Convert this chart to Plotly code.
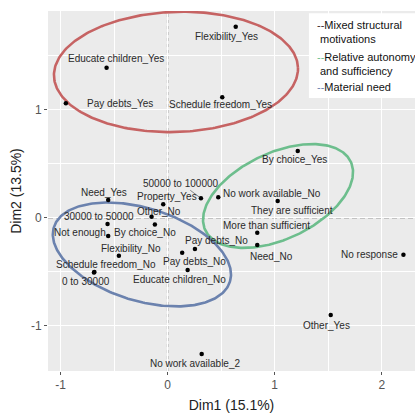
import numpy as np
import plotly.graph_objects as go

# ---- data ----
labels = ["Flexibility_Yes", "Educate children_Yes", "Pay debts_Yes", "Schedule freedom_Yes",
          "By choice_Yes", "50000 to 100000", "No work available_No", "They are sufficient",
          "Property_Yes", "Other_No", "By choice_No", "Need_Yes", "30000 to 50000", "Not enough",
          "Flexibility_No", "Schedule freedom_No", "0 to 30000", "More than sufficient", "Need_No",
          "Pay debts_No", "Pay debts_No", "Educate children_No", "No response", "Other_Yes",
          "No work available_2"]
dim1 = [0.636, -0.570, -0.950, 0.510, 1.215, 0.311, 0.473, 1.028, -0.041, -0.150, -0.119, -0.555,
        -0.561, -0.555, -0.455, -0.684, -0.688, 0.837, 0.837, 0.255, 0.136, 0.187, 2.202, 1.523, 0.318]
dim2 = [1.772, 1.391, 1.061, 1.117, 0.619, 0.180, 0.189, 0.155, 0.124, 0.009, -0.063, 0.164,
        -0.058, -0.170, -0.352, -0.503, -0.508, -0.139, -0.253, -0.290, -0.325, -0.485, -0.343,
        -0.903, -1.264]

# label offsets in pixels (dx right, dy down)
label_dx = [-9, 9, 54, -2, -3, -20, 54, 14, 4, 7, -10, -4, -9, -28, 12, 12, -8, 9, 14, 22, 12, -8, -34, -4, -7]
label_dy = [10, -9, 0, 7, 9, -15, -4, 10, -8, -5, 8, -8, -7, -4, -7, -7, 9, -7, 12, -8, 9, 10, 0, 10, 10]

# ellipses: center x, center y, semi-axis a, semi-axis b, angle (deg)
ell_names = ["Mixed structural motivations", "Relative autonomy and sufficiency", "Material need"]
ell_cx = [0.078, 1.031, -0.240]
ell_cy = [1.352, 0.201, -0.341]
ell_a = [1.14, 0.75, 0.86]
ell_b = [0.557, 0.40, 0.43]
ell_ang = [2, 25, -17]
ell_colors = ["#C66363", "#6DBE8D", "#6B82AE"]

xticks = [-1, 0, 1, 2]
yticks = [-1, 0, 1]

fig = go.Figure()

t = np.linspace(0, 2 * np.pi, 300)
for cx, cy, a, b, ang, col in zip(ell_cx, ell_cy, ell_a, ell_b, ell_ang, ell_colors):
    th = np.deg2rad(ang)
    ex = cx + a * np.cos(t) * np.cos(th) - b * np.sin(t) * np.sin(th)
    ey = cy + a * np.cos(t) * np.sin(th) + b * np.sin(t) * np.cos(th)
    fig.add_trace(go.Scatter(x=ex, y=ey, mode="lines", line=dict(color=col, width=2.6),
                             showlegend=False, hoverinfo="skip"))

fig.add_trace(go.Scatter(x=dim1, y=dim2, mode="markers",
                         marker=dict(color="black", size=4.5), showlegend=False,
                         text=labels, hoverinfo="text", cliponaxis=False))

font_lbl = dict(family="Liberation Sans, Arial, sans-serif", size=10, color="#2a2a2a")
for lab, x, y, dx, dy in zip(labels, dim1, dim2, label_dx, label_dy):
    if lab == "50000 to 100000":
        fig.add_annotation(x=x, y=y, text=lab, showarrow=True, ax=dx, ay=dy, arrowhead=0,
                           arrowwidth=0.7, arrowcolor="#555", standoff=2, font=font_lbl)
    else:
        fig.add_annotation(x=x, y=y, text=lab, showarrow=False, xshift=dx, yshift=-dy,
                           font=font_lbl)

# reference dashed lines
fig.add_shape(type="line", xref="x", yref="paper", x0=0, x1=0, y0=0, y1=1,
              line=dict(color="#9a9a9a", width=1.5, dash="3px,3px"), layer="below")
fig.add_shape(type="line", xref="paper", yref="y", x0=0, x1=1, y0=0, y1=0,
              line=dict(color="#9a9a9a", width=1.5, dash="5px,3px"), layer="below")

# legend box
fig.add_shape(type="rect", xref="paper", yref="paper", x0=0.711, x1=1.0, y0=0.758, y1=0.994,
              fillcolor="white", line=dict(width=0))
leg_font = dict(family="Liberation Sans, Arial, sans-serif", size=11, color="#111")
leg_lines = [
    ("<span style='color:#3a2a2a'>--</span>Mixed structural", 0.961),
    ("motivations", 0.922),
    ("<span style='color:#6DBE8D'>--</span>Relative autonomy", 0.872),
    ("and sufficiency", 0.833),
    ("<span style='color:#6B82AE'>--</span>Material need", 0.789),
]
for txt, yp in leg_lines:
    xp = 0.727 if txt.startswith("<span") else 0.735
    fig.add_annotation(xref="paper", yref="paper", x=xp, y=yp, text=txt, showarrow=False,
                       xanchor="left", yanchor="middle", font=leg_font)

axis_common = dict(showgrid=True, gridcolor="white", gridwidth=1.2, zeroline=False,
                   ticks="outside", ticklen=3, tickcolor="#555", tickwidth=1,
                   tickfont=dict(family="Liberation Sans, Arial, sans-serif", size=12, color="#555"),
                   showline=False, automargin=False)
fig.update_xaxes(range=[-1.117, 2.31], tickvals=xticks, ticktext=[str(v) for v in xticks],
                 minor=dict(tickvals=[-0.5, 0.5, 1.5], gridcolor="white", gridwidth=0.6, ticks=""),
                 title=dict(text="Dim1 (15.1%)", standoff=8,
                            font=dict(family="Liberation Sans, Arial, sans-serif", size=14, color="#222")),
                 **axis_common)
fig.update_yaxes(range=[-1.422, 1.917], tickvals=yticks, ticktext=[str(v) for v in yticks],
                 minor=dict(tickvals=[-0.5, 0.5, 1.5], gridcolor="white", gridwidth=0.6, ticks=""),
                 title=dict(text="Dim2 (13.5%)", standoff=6,
                            font=dict(family="Liberation Sans, Arial, sans-serif", size=14, color="#222")),
                 **axis_common)

fig.update_layout(width=415, height=413, margin=dict(l=48, r=0, t=11, b=42),
                  plot_bgcolor="#EBEBEB", paper_bgcolor="white", showlegend=False)

fig.write_html("out.html", config={"displayModeBar": False},
               post_script="document.body.style.margin='0';document.body.style.overflow='hidden';")
